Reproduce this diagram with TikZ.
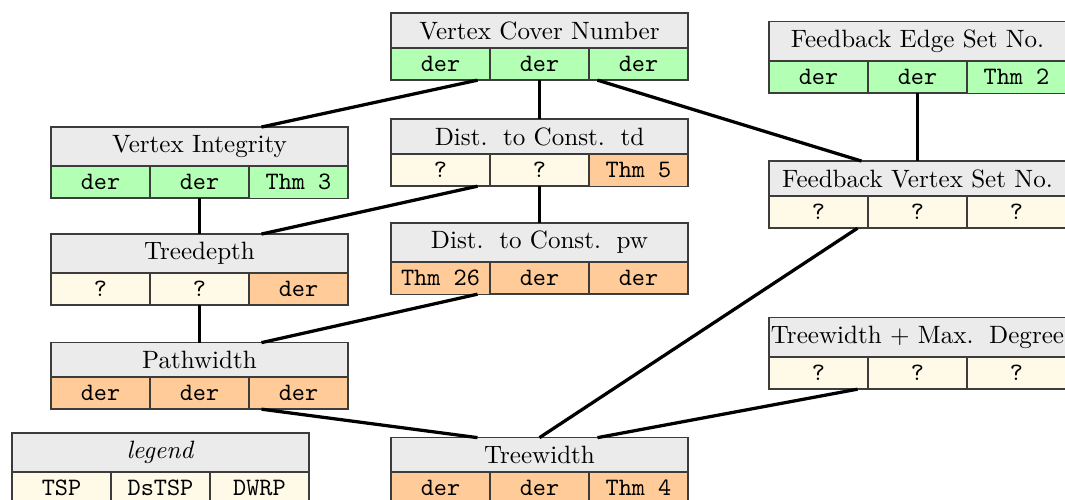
\documentclass[tikz,border=0pt]{standalone}
\usetikzlibrary{calc}
\definecolor{hdr}{RGB}{235,235,235}
\definecolor{cgreen}{RGB}{179,255,179}
\definecolor{cyel}{RGB}{255,250,232}
\definecolor{corange}{RGB}{255,204,153}
\definecolor{bord}{RGB}{60,60,60}
\tikzset{
  hbox/.style={draw=bord, fill=hdr, minimum width=118.5pt, inner xsep=0.5pt, anchor=south west, outer sep=0pt, line width=0.6pt},
  cbox/.style={draw=bord, minimum width=39.5pt, minimum height=12.8pt, anchor=north west, outer sep=0pt, font=\ttfamily, line width=0.6pt},
  conn/.style={line width=1.3pt, black},
}
\newcommand\phead[4]{\node[hbox] (#1) at (#2,#3) {#4};}
\newcommand\pcells[7]{%
  \node[cbox,fill=#2] (#1-1) at (#1.south west) {#3};
  \node[cbox,fill=#4] (#1-2) at (#1-1.north east) {#5};
  \node[cbox,fill=#6] (#1-3) at (#1-2.north east) {#7};}
\newcommand\sentsp{\hspace{1.8pt}}
\begin{document}
\begin{tikzpicture}[x=0.399pt,y=-0.399pt]
\useasboundingbox (0,0) rectangle (1065,499);
\clip (0,0) rectangle (1065,499);
% boxes
\phead{vc}{391}{48}{Vertex Cover Number}
\pcells{vc}{cgreen}{der}{cgreen}{der}{cgreen}{der}
\phead{fes}{769}{61}{Feedback Edge Set No.}
\pcells{fes}{cgreen}{der}{cgreen}{der}{cgreen}{Thm 2}
\phead{vi}{51}{166}{Vertex Integrity}
\pcells{vi}{cgreen}{der}{cgreen}{der}{cgreen}{Thm 3}
\phead{dtd}{391}{154}{Dist. \sentsp to Const. \sentsp td}
\pcells{dtd}{cyel}{?}{cyel}{?}{corange}{Thm 5}
\phead{fvs}{769}{196}{Feedback Vertex Set No.}
\pcells{fvs}{cyel}{?}{cyel}{?}{cyel}{?}
\phead{td}{51}{273}{Treedepth}
\pcells{td}{cyel}{?}{cyel}{?}{corange}{der}
\phead{dpw}{391}{262}{Dist. \sentsp to Const. \sentsp pw}
\pcells{dpw}{corange}{Thm 26}{corange}{der}{corange}{der}
\phead{pw}{51}{377}{Pathwidth}
\pcells{pw}{corange}{der}{corange}{der}{corange}{der}
\phead{twmd}{769}{357}{Treewidth + Max. \sentsp Degree}
\pcells{twmd}{cyel}{?}{cyel}{?}{cyel}{?}
\phead{tw}{391}{472}{Treewidth}
\pcells{tw}{corange}{der}{corange}{der}{corange}{Thm 4}
\phead{lg}{12}{472}{\textit{legend}}
\pcells{lg}{cyel}{TSP}{cyel}{DsTSP}{cyel}{DWRP}
% connectors
\draw[conn] ($(vc-2.south)+(-62,0)$) -- ($(vi.north)+(62,0)$);
\draw[conn] (vc-2.south) -- (dtd.north);
\draw[conn] ($(vc-2.south)+(58,0)$) -- ($(fvs.north)+(-56,0)$);
\draw[conn] (fes-2.south) -- (fvs.north);
\draw[conn] (vi-2.south) -- (td.north);
\draw[conn] ($(dtd-2.south)+(-62,0)$) -- ($(td.north)+(62,0)$);
\draw[conn] (dtd-2.south) -- (dpw.north);
\draw[conn] (td-2.south) -- (pw.north);
\draw[conn] ($(dpw-2.south)+(-62,0)$) -- ($(pw.north)+(62,0)$);
\draw[conn] ($(pw-2.south)+(62,0)$) -- ($(tw.north)+(-62,0)$);
\draw[conn] ($(fvs-2.south)+(-60,0)$) -- (tw.north);
\draw[conn] ($(twmd-2.south)+(-60,0)$) -- ($(tw.north)+(58,0)$);
\end{tikzpicture}
\end{document}
